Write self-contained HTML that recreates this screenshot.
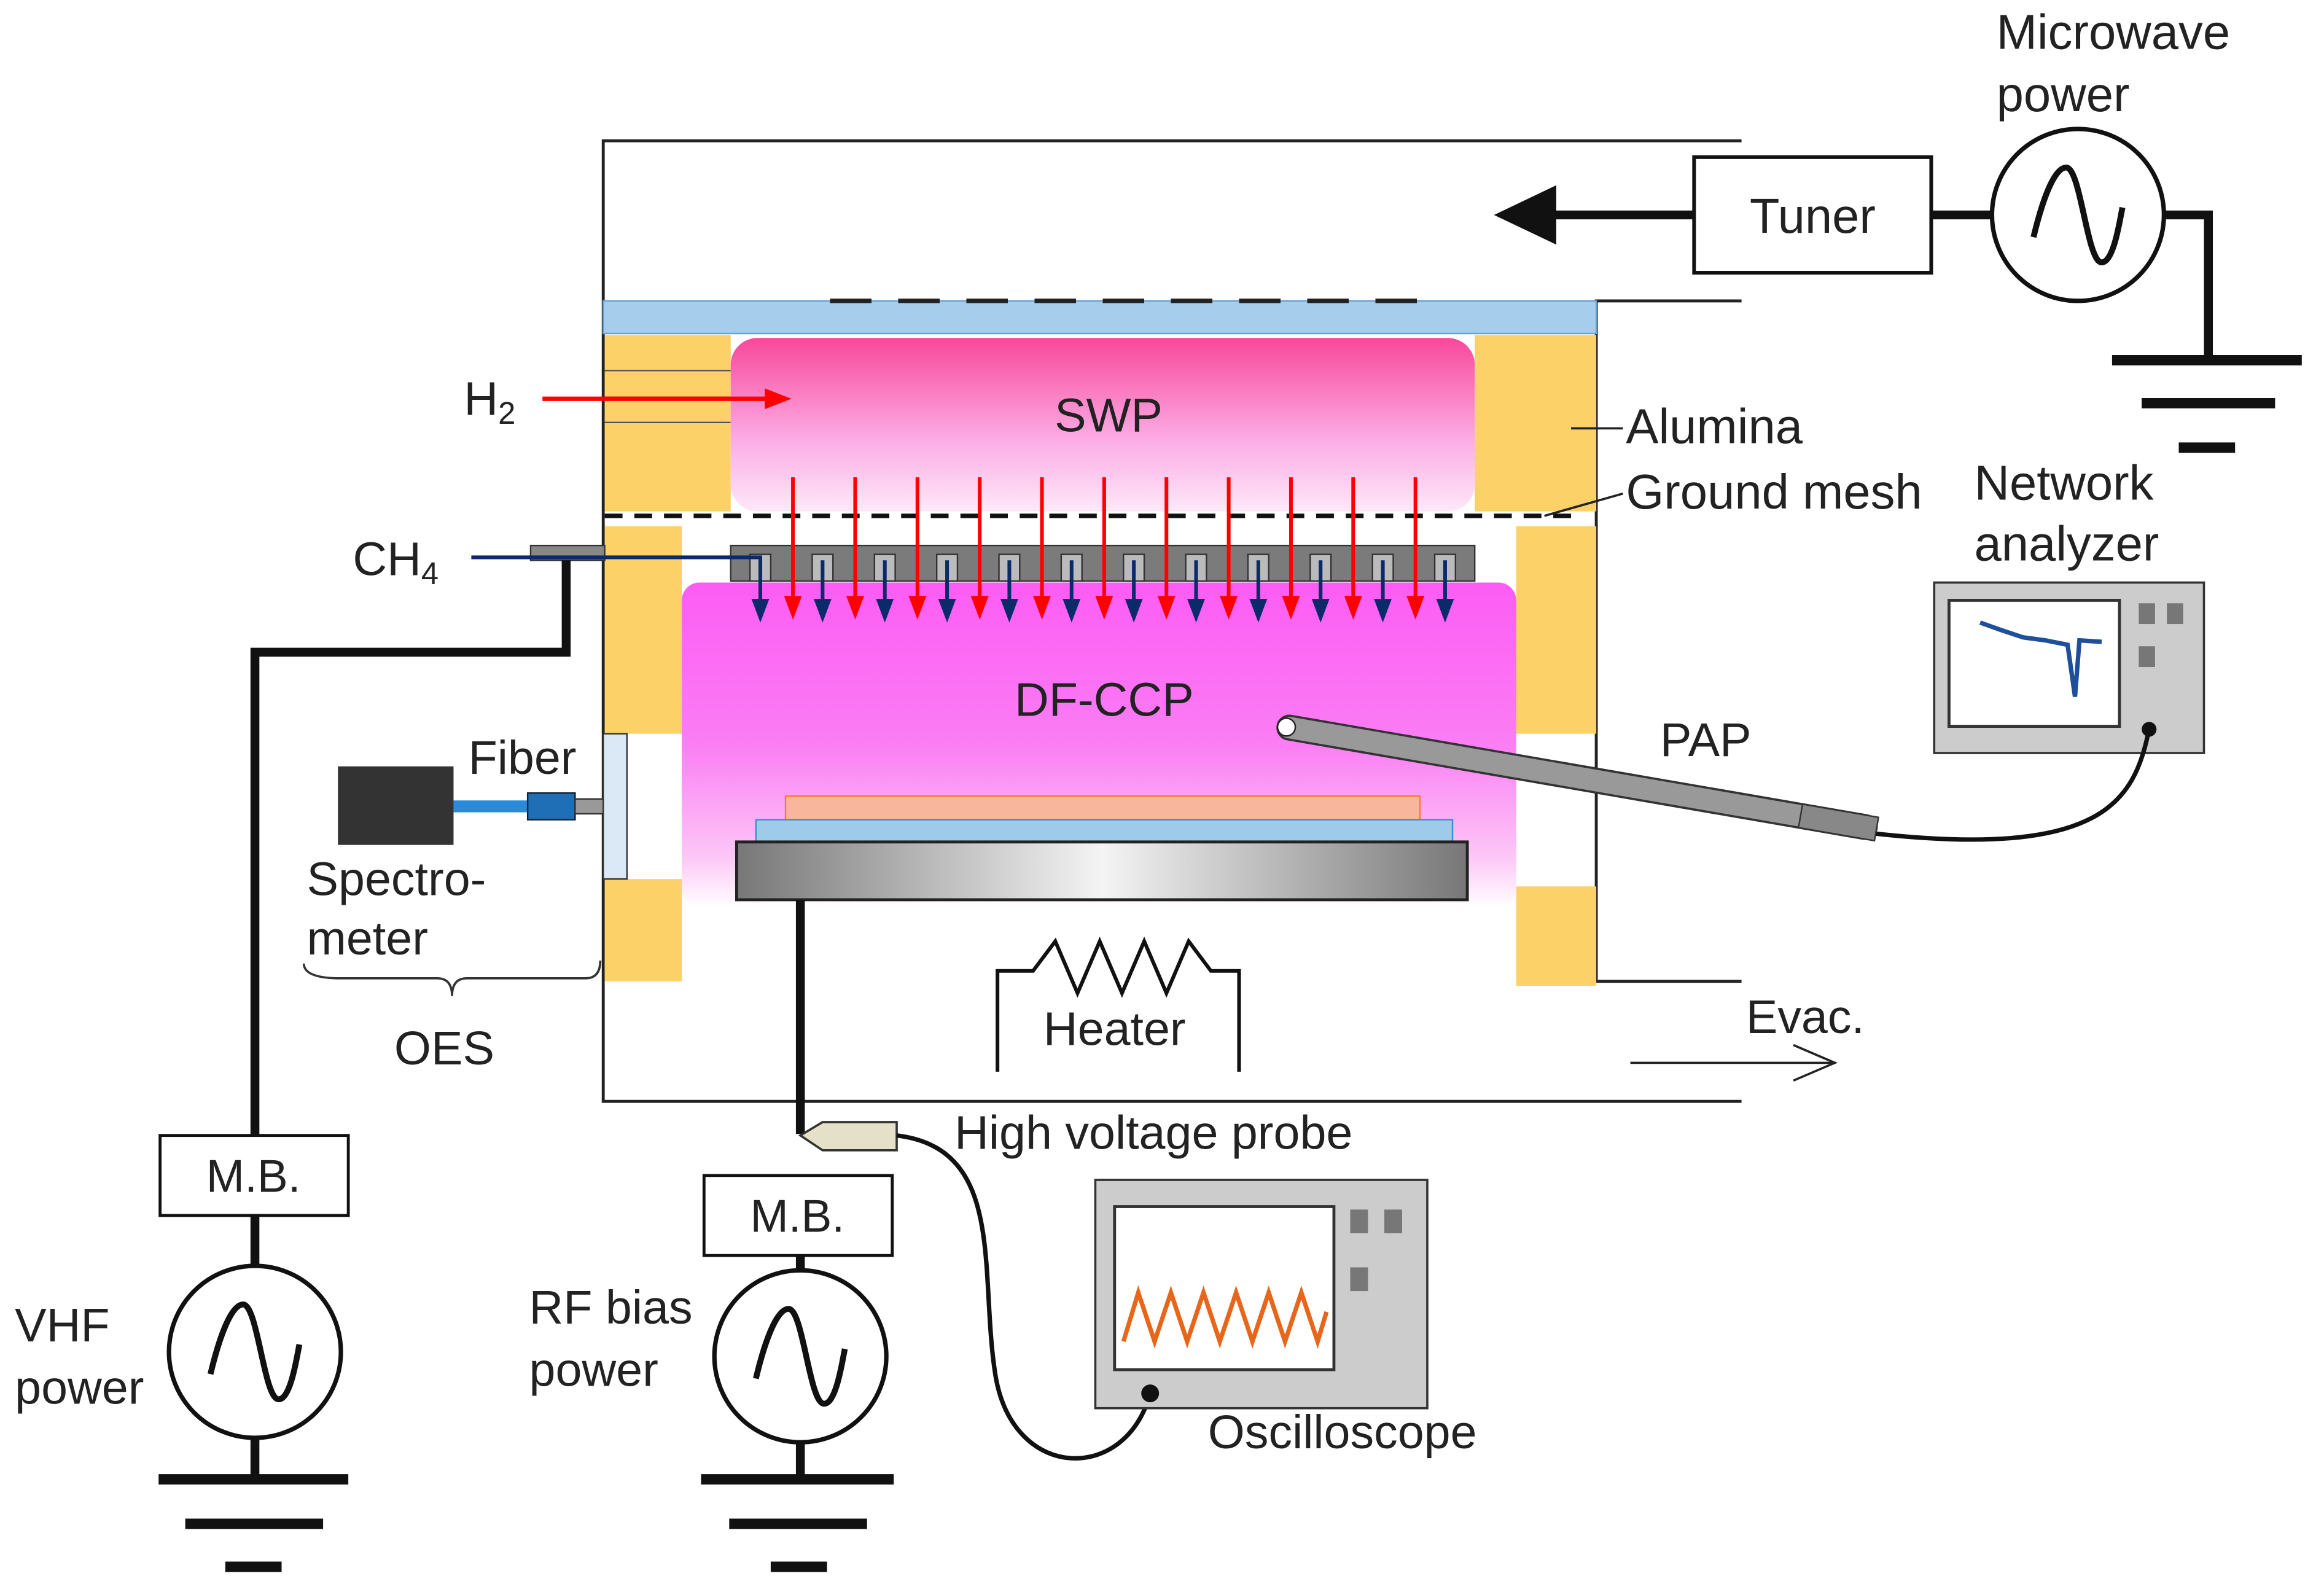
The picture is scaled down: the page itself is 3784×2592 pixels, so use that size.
<!DOCTYPE html>
<html><head><style>html,body{margin:0;padding:0;background:#fff}svg{display:block}text{font-family:"Liberation Sans",sans-serif;fill:#222}</style></head>
<body>
<svg width="3784" height="2592" viewBox="0 0 1568 1074" preserveAspectRatio="none" xmlns="http://www.w3.org/2000/svg">
<defs>
<linearGradient id="swp" x1="0" y1="0" x2="0" y2="1"><stop offset="0" stop-color="#f8489a"/><stop offset="0.6" stop-color="#fbaee6"/><stop offset="1" stop-color="#fde8f8"/></linearGradient>
<linearGradient id="ccp" x1="0" y1="0" x2="0" y2="1"><stop offset="0" stop-color="#fc5cf4"/><stop offset="0.5" stop-color="#fb7ef4"/><stop offset="0.85" stop-color="#fcc8f6"/><stop offset="1" stop-color="#fff"/></linearGradient>
<linearGradient id="stg" x1="0" y1="0" x2="1" y2="0"><stop offset="0" stop-color="#777"/><stop offset="0.5" stop-color="#f4f4f4"/><stop offset="1" stop-color="#777"/></linearGradient>
<g id="rA"><path d="M0,-96V-12" stroke="red" stroke-width="2.5"/><path d="M-6,-16L6,-16L0,0z" fill="red"/></g>
<g id="bA"><path d="M0,-42V-12" stroke="#0a2a6a" stroke-width="2.5"/><path d="M-6,-16L6,-16L0,0z" fill="#0a2a6a"/></g>
<path id="sine" d="M-30,15C-24,-10 -16,-32 -8,-32C2,-32 6,32 16,32C24,32 28,5 30,-5" stroke="#111" stroke-width="4" fill="none"/>
</defs>
<g stroke="#222" stroke-width="2" fill="none">
<path d="M1175,95H407V743H1175"/>
<path d="M1175,203H1077V662H1175"/>
</g>
<rect x="407" y="203" width="670" height="22" fill="#a7cdec" stroke="#6aa0d0"/>
<path d="M560,203H960" stroke="#222" stroke-width="3" stroke-dasharray="28,18"/>
<g fill="#fbd168">
<rect x="408" y="226" width="85" height="119"/>
<rect x="995" y="226" width="82" height="119"/>
<rect x="408" y="355" width="52" height="140"/>
<rect x="1023" y="355" width="54" height="140"/>
<rect x="408" y="593" width="52" height="69"/>
<rect x="1023" y="598" width="54" height="67"/>
</g>
<g stroke="#555" stroke-width="1"><path d="M408,250H493M408,268H493M408,285H493"/></g>
<rect x="493" y="228" width="502" height="117" rx="18" fill="url(#swp)"/>
<rect x="460" y="393" width="563" height="219" rx="12" fill="url(#ccp)"/>
<text x="748" y="291" font-size="32" text-anchor="middle">SWP</text>
<text x="745" y="483" font-size="32" text-anchor="middle">DF-CCP</text>
<path d="M408,348H1060" stroke="#111" stroke-width="3" stroke-dasharray="12,8"/>
<rect x="493" y="368" width="502" height="24" fill="#7b7b7b" stroke="#333"/>
<g fill="#bbb" stroke="#333" stroke-width="1">
<rect x="506" y="374" width="14" height="18"/><rect x="548" y="374" width="14" height="18"/><rect x="590" y="374" width="14" height="18"/><rect x="632" y="374" width="14" height="18"/><rect x="674" y="374" width="14" height="18"/><rect x="716" y="374" width="14" height="18"/><rect x="758" y="374" width="14" height="18"/><rect x="800" y="374" width="14" height="18"/><rect x="842" y="374" width="14" height="18"/><rect x="884" y="374" width="14" height="18"/><rect x="926" y="374" width="14" height="18"/><rect x="968" y="374" width="14" height="18"/>
</g>
<rect x="358" y="368" width="50" height="10" fill="#888" stroke="#333"/>
<path d="M318,376H513V392" stroke="#0a2a6a" stroke-width="2.5" fill="none"/>
<use href="#rA" x="535" y="418"/><use href="#rA" x="577" y="418"/><use href="#rA" x="619" y="418"/><use href="#rA" x="661" y="418"/><use href="#rA" x="703" y="418"/><use href="#rA" x="745" y="418"/><use href="#rA" x="787" y="418"/><use href="#rA" x="829" y="418"/><use href="#rA" x="871" y="418"/><use href="#rA" x="913" y="418"/><use href="#rA" x="955" y="418"/>
<use href="#bA" x="513" y="420"/><use href="#bA" x="555" y="420"/><use href="#bA" x="597" y="420"/><use href="#bA" x="639" y="420"/><use href="#bA" x="681" y="420"/><use href="#bA" x="723" y="420"/><use href="#bA" x="765" y="420"/><use href="#bA" x="807" y="420"/><use href="#bA" x="849" y="420"/><use href="#bA" x="891" y="420"/><use href="#bA" x="933" y="420"/><use href="#bA" x="975" y="420"/>
<path d="M366,269H520" stroke="red" stroke-width="3"/><path d="M516,262L534,269L516,276z" fill="red"/>
<text x="313" y="280" font-size="32">H<tspan font-size="21" dy="6">2</tspan></text>
<text x="238" y="388" font-size="32">CH<tspan font-size="21" dy="6">4</tspan></text>
<path d="M382,378V440H172V768" stroke="#111" stroke-width="6" fill="none"/>
<rect x="407" y="495" width="16" height="98" fill="#dbe9f7" stroke="#333"/>
<rect x="228" y="517" width="78" height="53" fill="#333"/>
<rect x="306" y="540" width="52" height="8" fill="#2a8ad8"/>
<rect x="356" y="535" width="32" height="18" fill="#1e6fb5" stroke="#123"/>
<rect x="388" y="539" width="19" height="10" fill="#999" stroke="#333"/>
<text x="316" y="522" font-size="32">Fiber</text>
<text x="207" y="604" font-size="32">Spectro-</text>
<text x="207" y="644" font-size="32">meter</text>
<path d="M205,650Q205,660 230,660H295Q305,660 305,672Q305,660 315,660H395Q405,660 405,648" stroke="#333" stroke-width="1.5" fill="none"/>
<text x="266" y="718" font-size="32">OES</text>
<rect x="530" y="537" width="428" height="16" fill="#f8b79d" stroke="#f47d3a"/>
<rect x="510" y="553" width="470" height="15" fill="#9fcbea" stroke="#3a8fd0"/>
<rect x="497" y="568" width="493" height="39" fill="url(#stg)" stroke="#222" stroke-width="2"/>
<path d="M540,607V765" stroke="#111" stroke-width="6"/>
<path d="M673,723V655H697L712,635L727,670L742,635L757,670L772,635L787,670L802,635L817,655H836V723" stroke="#111" stroke-width="2.5" fill="none"/>
<text x="752" y="705" font-size="32" text-anchor="middle">Heater</text>
<path d="M1100,717H1238M1210,705L1238,717L1210,729" stroke="#222" stroke-width="1.5" fill="none"/>
<text x="1178" y="697" font-size="32">Evac.</text>
<path d="M1060,289H1095M1042,348L1095,333" stroke="#222" stroke-width="1.5"/>
<text x="1097" y="299" font-size="33">Alumina</text>
<text x="1097" y="343" font-size="33">Ground mesh</text>
<path d="M1143,145H1040" stroke="#111" stroke-width="6"/>
<path d="M1008,145L1050,125V165z" fill="#111"/>
<rect x="1143" y="106" width="160" height="78" fill="#fff" stroke="#111" stroke-width="2.5"/>
<text x="1223" y="157" font-size="33" text-anchor="middle">Tuner</text>
<path d="M1303,145H1345M1460,145H1490V243" stroke="#111" stroke-width="6" fill="none"/>
<circle cx="1402" cy="145" r="58" fill="#fff" stroke="#111" stroke-width="3"/>
<use href="#sine" transform="translate(1402 145)"/>
<path d="M1425,243H1553M1445,272H1535M1470,302H1508" stroke="#111" stroke-width="7"/>
<text x="1347" y="33" font-size="33">Microwave</text>
<text x="1347" y="75" font-size="33">power</text>
<text x="1332" y="337" font-size="33">Network</text>
<text x="1332" y="378" font-size="33">analyzer</text>
<rect x="1305" y="393" width="182" height="115" fill="#ccc" stroke="#333" stroke-width="1.5"/>
<rect x="1315" y="405" width="115" height="85" fill="#fff" stroke="#333" stroke-width="2"/>
<path d="M1336,420L1350,425L1365,430L1380,432L1395,435L1400,470L1403,432L1418,433" stroke="#1e4f9a" stroke-width="3" fill="none"/>
<rect x="1443" y="407" width="11" height="14" fill="#777"/><rect x="1462" y="407" width="11" height="14" fill="#777"/><rect x="1443" y="436" width="11" height="14" fill="#777"/>
<circle cx="1450" cy="492" r="5" fill="#111"/>
<path d="M1450,492C1440,540 1420,580 1262,562" stroke="#111" stroke-width="3" fill="none"/>
<g transform="rotate(9.8 865 490)">
<rect x="862" y="482" width="410" height="16" rx="8" fill="#999" stroke="#333" stroke-width="1.5"/>
<rect x="1220" y="482" width="52" height="16" fill="#888" stroke="#333"/>
<circle cx="868" cy="490" r="6" fill="#fff" stroke="#222"/>
</g>
<text x="1120" y="510" font-size="32">PAP</text>
<rect x="108" y="766" width="127" height="54" fill="#fff" stroke="#111" stroke-width="2"/>
<text x="171" y="804" font-size="31" text-anchor="middle">M.B.</text>
<path d="M172,820V855M172,970V998" stroke="#111" stroke-width="6"/>
<circle cx="172" cy="912" r="58" fill="#fff" stroke="#111" stroke-width="3"/>
<use href="#sine" transform="translate(172 912)"/>
<path d="M107,998H235M125,1028H218M152,1057H190" stroke="#111" stroke-width="7"/>
<text x="10" y="905" font-size="32">VHF</text>
<text x="10" y="947" font-size="32">power</text>
<rect x="475" y="793" width="127" height="54" fill="#fff" stroke="#111" stroke-width="2"/>
<text x="538" y="831" font-size="31" text-anchor="middle">M.B.</text>
<path d="M540,847V858M540,972V998" stroke="#111" stroke-width="6"/>
<circle cx="540" cy="915" r="58" fill="#fff" stroke="#111" stroke-width="3"/>
<use href="#sine" transform="translate(540 915)"/>
<path d="M473,998H603M492,1028H585M520,1057H558" stroke="#111" stroke-width="7"/>
<text x="357" y="893" font-size="32">RF bias</text>
<text x="357" y="935" font-size="32">power</text>
<path d="M540,766L555,757H605V776H555z" fill="#e5e0c8" stroke="#333" stroke-width="1.5"/>
<text x="644" y="775" font-size="32">High voltage probe</text>
<path d="M605,766C680,775 660,860 672,930C685,1000 760,1000 776,940" stroke="#111" stroke-width="3" fill="none"/>
<rect x="739" y="796" width="224" height="154" fill="#ccc" stroke="#333" stroke-width="1.5"/>
<rect x="752" y="814" width="148" height="110" fill="#fff" stroke="#333" stroke-width="2"/>
<path d="M758,905L768,872L779,905L790,872L801,905L812,872L823,905L834,872L845,905L856,872L867,905L878,872L889,905L895,885" stroke="#e8661a" stroke-width="3" fill="none"/>
<rect x="911" y="816" width="12" height="16" fill="#777"/><rect x="934" y="816" width="12" height="16" fill="#777"/><rect x="911" y="855" width="12" height="16" fill="#777"/>
<circle cx="776" cy="940" r="6" fill="#111"/>
<text x="815" y="977" font-size="32">Oscilloscope</text>
</svg>
</body></html>
